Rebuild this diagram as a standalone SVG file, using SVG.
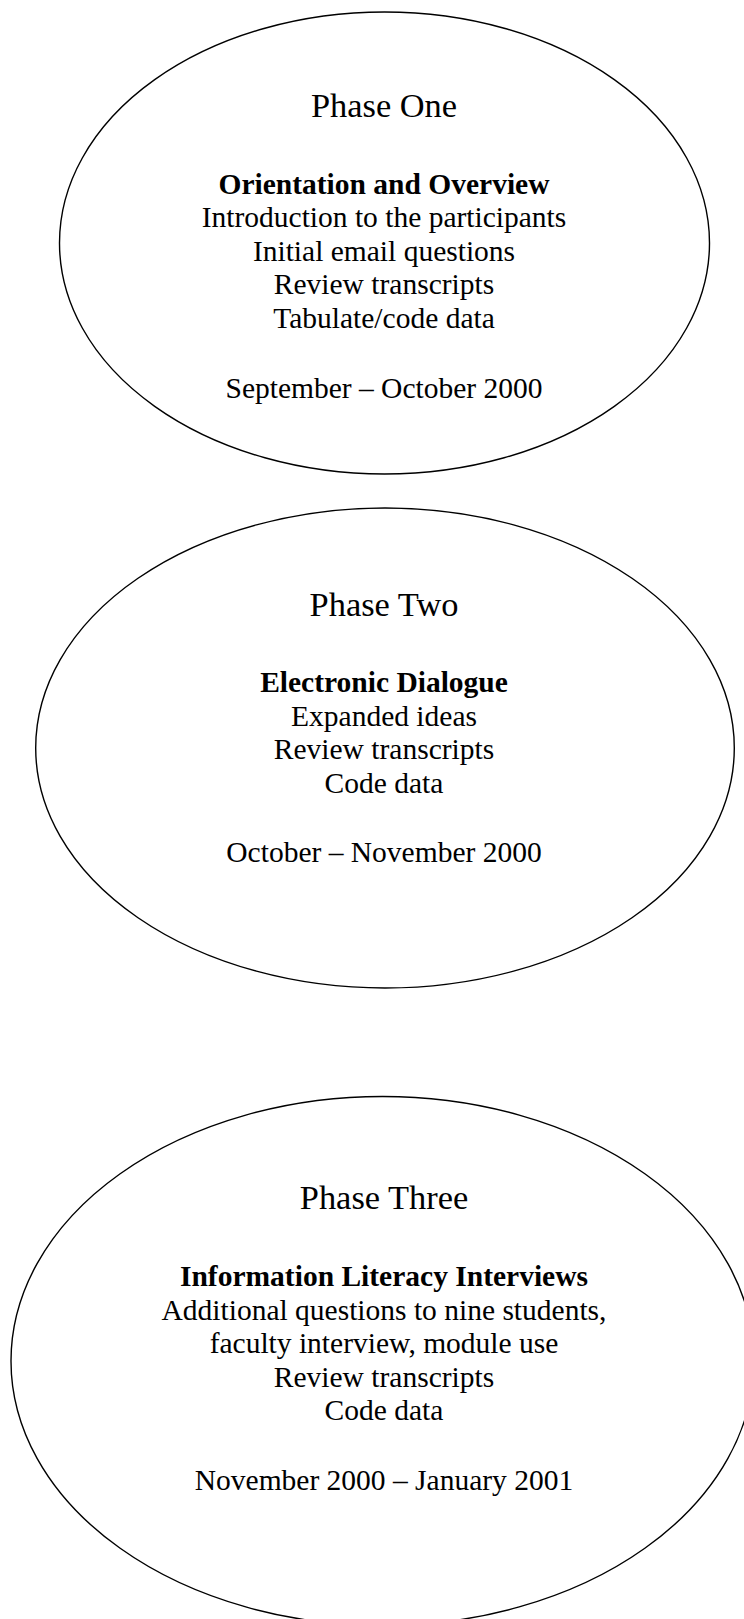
<svg xmlns="http://www.w3.org/2000/svg" width="744" height="1619" viewBox="0 0 744 1619">
<style>
.oval{fill:#fff;stroke:#000;stroke-width:1.4}
text{font-family:"Liberation Serif","Times New Roman",serif;fill:#000;text-anchor:middle}
.t{font-size:34.4px}
.b{font-size:29.5px}
.h{font-size:29.5px;font-weight:bold}
</style>
<rect x="0" y="0" width="744" height="1619" fill="#fff"/>
<g id="phase1">
<ellipse class="oval" cx="384.5" cy="243" rx="325" ry="231"/>
<text class="t" x="384" y="117">Phase One</text>
<text class="h" x="384" y="193.5">Orientation and Overview</text>
<text class="b" x="384" y="227">Introduction to the participants</text>
<text class="b" x="384" y="260.7">Initial email questions</text>
<text class="b" x="384" y="294.3">Review transcripts</text>
<text class="b" x="384" y="328">Tabulate/code data</text>
<text class="b" x="384" y="397.5">September – October 2000</text>
</g>
<g id="phase2">
<ellipse class="oval" cx="385" cy="748" rx="349.3" ry="240"/>
<text class="t" x="384" y="616">Phase Two</text>
<text class="h" x="384" y="692">Electronic Dialogue</text>
<text class="b" x="384" y="725.5">Expanded ideas</text>
<text class="b" x="384" y="759">Review transcripts</text>
<text class="b" x="384" y="792.5">Code data</text>
<text class="b" x="384" y="861.5">October – November 2000</text>
</g>
<g id="phase3">
<ellipse class="oval" cx="382.5" cy="1361" rx="371.5" ry="264.5"/>
<text class="t" x="384" y="1209">Phase Three</text>
<text class="h" x="384" y="1286">Information Literacy Interviews</text>
<text class="b" x="384" y="1319.5">Additional questions to nine students,</text>
<text class="b" x="384" y="1353">faculty interview, module use</text>
<text class="b" x="384" y="1386.5">Review transcripts</text>
<text class="b" x="384" y="1420">Code data</text>
<text class="b" x="384" y="1490">November 2000 – January 2001</text>
</g>
<g id="connectors"/>
</svg>
